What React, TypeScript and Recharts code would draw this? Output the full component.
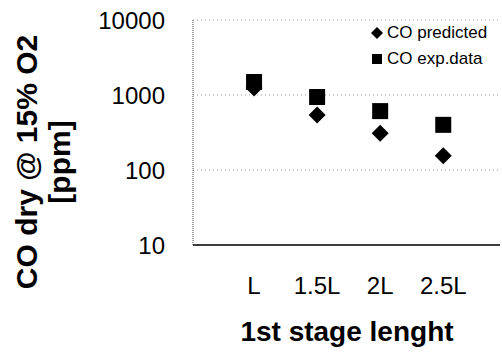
import { ScatterChart, Scatter, XAxis, YAxis, CartesianGrid } from "recharts";

const stages = [1, 1.5, 2, 2.5];
const stageLabels = ["L", "1.5L", "2L", "2.5L"];
const coPredicted = [1240, 540, 310, 155];
const coExp = [1490, 940, 610, 400];
const yTicks = [10, 100, 1000, 10000];

const predictedData = stages.map((s, i) => ({ x: s, y: coPredicted[i] }));
const expData = stages.map((s, i) => ({ x: s, y: coExp[i] }));

const FONT = "Arial, 'Liberation Sans', sans-serif";

const Diamond = (props: any) => {
  const { cx, cy } = props;
  const r = 8.5;
  return <path d={`M${cx},${cy - r}L${cx + r},${cy}L${cx},${cy + r}L${cx - r},${cy}Z`} fill="#000" />;
};

const Square = (props: any) => {
  const { cx, cy } = props;
  const s = 16;
  return <rect x={cx - s / 2} y={cy - s / 2} width={s} height={s} fill="#000" />;
};

// legend drawn as an overlay so it does not shrink the plot area
const LegendBox = () => (
  <div
    style={{
      position: "absolute",
      left: 371,
      top: 20,
      fontFamily: FONT,
      fontSize: 17,
      color: "#000",
      lineHeight: "26px",
      whiteSpace: "nowrap",
    }}
  >
    <div style={{ display: "flex", alignItems: "center" }}>
      <svg width={12} height={12} style={{ marginRight: 4 }}>
        <path d="M6,0L12,6L6,12L0,6Z" fill="#000" />
      </svg>
      CO predicted
    </div>
    <div style={{ display: "flex", alignItems: "center" }}>
      <svg width={12} height={12} style={{ marginRight: 4 }}>
        <rect x={1} y={1} width={10} height={10} fill="#000" />
      </svg>
      CO exp.data
    </div>
  </div>
);

const YTitle = () => (
  <g transform="translate(27,162) rotate(-90)">
    <text textAnchor="middle" fontFamily={FONT} fontWeight="bold" fontSize={30} fill="#000">
      <tspan x={0} y={10}>CO dry @ 15% O2</tspan>
      <tspan x={0} y={43}>[ppm]</tspan>
    </text>
  </g>
);

const XTitle = () => (
  <text x={347} y={341} textAnchor="middle" fontFamily={FONT} fontWeight="bold" fontSize={28} fill="#000">
    1st stage lenght
  </text>
);

export default function App() {
  const tickStyle = { fill: "#000", fontSize: 24, fontFamily: FONT };
  return (
    <div style={{ position: "absolute", left: 0, top: 0, width: 502, height: 360, background: "#fff" }}>
      <ScatterChart width={502} height={360} margin={{ top: 20, right: 2, bottom: 0, left: 0 }}>
        <CartesianGrid vertical={false} stroke="#999" strokeDasharray="1 3" />
        <XAxis
          type="number"
          dataKey="x"
          domain={[0.516, 2.95]}
          ticks={stages}
          interval={0}
          tickFormatter={(v: number) => stageLabels[stages.indexOf(v)]}
          tickLine={false}
          tickSize={0}
          tickMargin={32}
          axisLine={{ stroke: "#000", strokeWidth: 1.5 }}
          tick={tickStyle}
          height={115}
          label={<XTitle />}
        />
        <YAxis
          type="number"
          dataKey="y"
          scale="log"
          domain={[10, 10000]}
          ticks={yTicks}
          interval={0}
          tickLine={false}
          tickSize={0}
          tickMargin={28}
          axisLine={{ stroke: "#444", strokeDasharray: "1 1" }}
          tick={tickStyle}
          width={193}
          label={<YTitle />}
        />
        <Scatter name="CO predicted" data={predictedData} shape={Diamond} isAnimationActive={false} />
        <Scatter name="CO exp.data" data={expData} shape={Square} isAnimationActive={false} />
      </ScatterChart>
      <LegendBox />
    </div>
  );
}
